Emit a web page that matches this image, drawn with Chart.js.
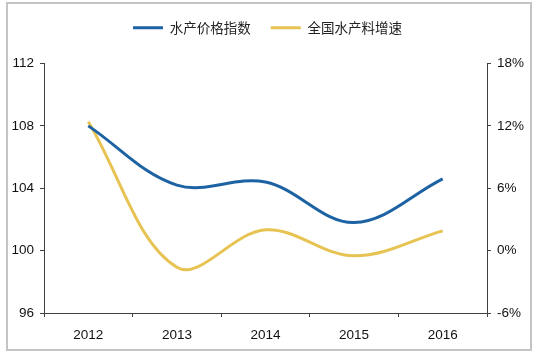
<!DOCTYPE html>
<html><head><meta charset="utf-8">
<script src="https://cdn.jsdelivr.net/npm/chart.js@4/dist/chart.umd.min.js"></script>
<style>html,body{margin:0;padding:0;background:#fff;overflow:hidden}</style>
</head><body>
<canvas id="c" width="535" height="355"></canvas>
<script>
const categories = ['2012', '2013', '2014', '2015', '2016'];
const priceIndex = [108.0, 104.2, 104.4, 101.8, 104.6];
const feedGrowth = [12.4, -1.6, 2.0, -0.5, 1.9];
const seriesNames = ['水产价格指数', '全国水产料增速'];
const leftRange = [96, 112];
const leftStep = 4;
const rightRange = [-6, 18];
const rightStep = 6;

const BLUE = '#1d63a3';
const YELLOW = '#e6c353';
const AXIS = '#404040';
const tickFont = {family: 'Liberation Sans, Arial, sans-serif', size: 13.5};

const frame = {
  id: 'frame',
  afterInit(chart) {
    const lg = chart.legend;
    if (lg && !lg._patched) {
      const fit = lg.fit;
      lg.fit = function () { fit.call(this); this.height += 19; };
      lg._patched = true;
    }
  },
  beforeDraw(chart) {
    const ctx = chart.ctx;
    ctx.save();
    ctx.fillStyle = '#fff';
    ctx.fillRect(0, 0, chart.width, chart.height);
    ctx.strokeStyle = '#c4c4c4';
    ctx.lineWidth = 2;
    ctx.strokeRect(7, 3, 524, 347);
    ctx.restore();
  }
};

new Chart(document.getElementById('c'), {
  type: 'line',
  data: {
    labels: categories,
    datasets: [
      {label: seriesNames[0], data: priceIndex, yAxisID: 'y', borderColor: BLUE, backgroundColor: BLUE,
       borderWidth: 3, pointRadius: 0, tension: 0.36, fill: false},
      {label: seriesNames[1], data: feedGrowth, yAxisID: 'y1', borderColor: YELLOW, backgroundColor: YELLOW,
       borderWidth: 3, pointRadius: 0, tension: 0.36, fill: false}
    ]
  },
  options: {
    responsive: false,
    animation: false,
    devicePixelRatio: 1,
    layout: {padding: {top: 1, left: 0, right: 0, bottom: 0}},
    plugins: {
      legend: {
        position: 'top',
        align: 'center',
        labels: {
          boxWidth: 30, boxHeight: 3, padding: 20, color: '#222',
          font: {family: 'Noto Sans CJK SC, sans-serif', size: 13.5},
          generateLabels(chart) {
            const items = Chart.defaults.plugins.legend.labels.generateLabels(chart);
            items.forEach(i => { i.lineWidth = 0; });
            return items;
          }
        }
      },
      tooltip: {enabled: false},
      title: {display: false}
    },
    scales: {
      x: {
        type: 'category',
        offset: true,
        grid: {display: true, drawOnChartArea: false, drawTicks: true, tickLength: 4, offset: true, color: AXIS},
        border: {display: true, color: AXIS, width: 1},
        ticks: {font: tickFont, color: '#111', padding: 10, maxRotation: 0},
        afterFit(s) { s.height = 42; }
      },
      y: {
        position: 'left',
        min: leftRange[0], max: leftRange[1],
        grid: {display: true, drawOnChartArea: false, drawTicks: true, tickLength: 4, color: AXIS},
        border: {display: true, color: AXIS, width: 1},
        ticks: {stepSize: leftStep, font: tickFont, color: '#111', padding: 6},
        afterFit(s) { s.width = 44; }
      },
      y1: {
        position: 'right',
        min: rightRange[0], max: rightRange[1],
        grid: {display: true, drawOnChartArea: false, drawTicks: true, tickLength: 4, color: AXIS},
        border: {display: true, color: AXIS, width: 1},
        ticks: {stepSize: rightStep, font: tickFont, color: '#111', padding: 6, callback: v => v + '%'},
        afterFit(s) { s.width = 48; }
      }
    }
  },
  plugins: [frame]
});
</script>
</body></html>
